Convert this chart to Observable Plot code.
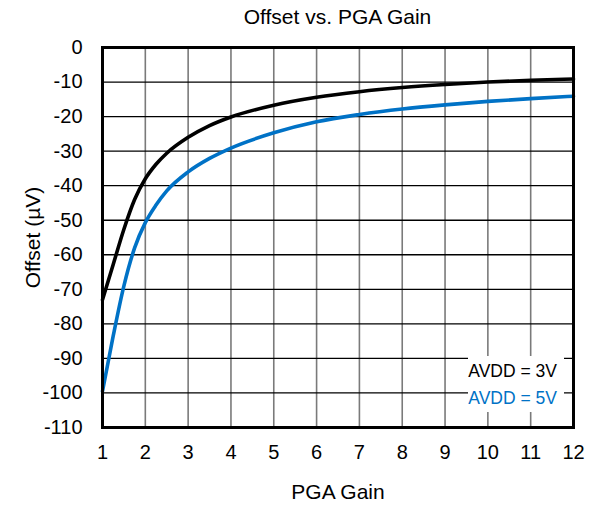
<!DOCTYPE html>
<html>
<head>
<meta charset="utf-8">
<script src="https://cdn.jsdelivr.net/npm/d3@7"></script>
<script src="https://cdn.jsdelivr.net/npm/@observablehq/plot@0.6"></script>
<style>
  html, body { margin: 0; padding: 0; background: #fff; }
  #wrap { position: relative; width: 595px; height: 506px; font-family: "Liberation Sans", Arial, sans-serif; }
  #title { position: absolute; left: 102px; width: 471px; top: 0; height: 30px; line-height: 34px; text-align: center; font-size: 21px; color: #000; }
  #chart { position: absolute; left: 0; top: 30px; }
  #legend { position: absolute; left: 468px; top: 356px; width: 96px; height: 56px; background: #fff; text-align: right; font-size: 17.5px; line-height: 26.5px; padding-top: 2px; box-sizing: border-box; padding-right: 7px; }
</style>
</head>
<body>
<div id="wrap">
  <div id="title">Offset vs. PGA Gain</div>
  <div id="chart"></div>
  <div id="legend"><div style="color:#000">AVDD = 3V</div><div style="color:#0072C6">AVDD = 5V</div></div>
</div>
<script>
const gains    = [1, 1.25, 1.5, 1.75, 2, 2.25, 2.5, 3, 3.5, 4, 5, 6, 7, 8, 9, 10, 11, 12];
const offset3V = [-73, -62.8, -52.6, -44, -38, -33.8, -30.6, -26, -22.6, -20.1, -16.7, -14.4, -12.8, -11.6, -10.7, -10.0, -9.5, -9.1];
const offset5V = [-99.5, -83.5, -69, -58, -50.7, -45.6, -41.5, -36, -32.1, -29.1, -24.7, -21.5, -19.4, -17.8, -16.6, -15.6, -14.8, -14.1];
const xTicks = d3.range(1, 13, 1);
const yTicks = d3.range(-110, 1, 10);
const series = [
  {name: "AVDD = 3V", color: "#000000", values: offset3V},
  {name: "AVDD = 5V", color: "#0072C6", values: offset5V}
];
const data = series.flatMap(s => gains.map((g, i) => ({gain: g, offset: s.values[i], series: s.name})));
const fmt = d => String(d);

const chart = Plot.plot({
  width: 595,
  height: 476,
  marginLeft: 102,
  marginRight: 22,
  marginTop: 17,
  marginBottom: 79,
  style: {fontFamily: "Liberation Sans, Arial, sans-serif", background: "#fff", color: "#000"},
  x: {domain: [1, 12]},
  y: {domain: [-110, 0]},
  color: {domain: series.map(s => s.name), range: series.map(s => s.color)},
  marks: [
    Plot.gridX(xTicks, {stroke: "#7a7a7a", strokeOpacity: 1, strokeWidth: 1.6}),
    Plot.gridY(yTicks, {stroke: "#000", strokeOpacity: 1, strokeWidth: 1.3}),
    Plot.axisX(xTicks, {tickSize: 0, tickPadding: 17, fontSize: 20, tickFormat: fmt, label: null}),
    Plot.axisX([], {tickSize: 0, fontSize: 21, label: "PGA Gain", labelAnchor: "center", labelOffset: 71, labelArrow: "none"}),
    Plot.axisY(yTicks, {tickSize: 0, tickPadding: 20, fontSize: 20, tickFormat: fmt, label: null}),
    Plot.axisY([], {tickSize: 0, fontSize: 21, label: "Offset (µV)", labelAnchor: "center", labelOffset: 77, labelArrow: "none"}),
    Plot.line(data, {x: "gain", y: "offset", stroke: "series", z: "series", strokeWidth: 3.6, curve: "monotone-x"}),
    Plot.frame({stroke: "#000", strokeWidth: 3})
  ]
});
document.getElementById("chart").appendChild(chart);
</script>
</body>
</html>
